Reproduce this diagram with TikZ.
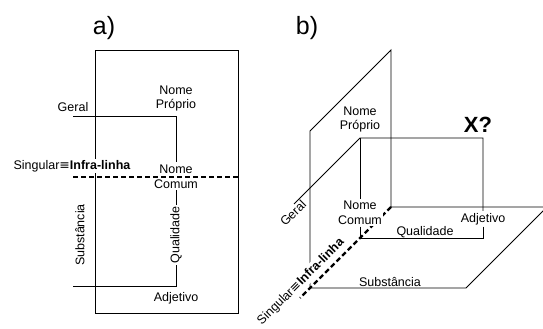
\documentclass[tikz,border=0pt]{standalone}
\usepackage{fontspec}
\setmainfont{Liberation Sans}
\newfontfamily\eqvfont{DejaVu Sans}
\usepackage{tikz}

\newcommand{\eqv}{{\eqvfont ≡}}

\tikzset{
  lbl/.style={font=\fontsize{12.5}{14.5}\selectfont, inner sep=1.5pt},
  wlbl/.style={lbl, fill=white},
  vlbl/.style={wlbl, rotate=90},
  dlbl/.style={wlbl, rotate=45},
  paneltag/.style={font=\fontsize{25}{27}\selectfont},
  infra/.style={line width=2.2pt, dash pattern=on 5pt off 3pt},
}

\begin{document}
\begin{tikzpicture}[x=1pt,y=-1pt,line width=0.9pt]
    \useasboundingbox (0,0) rectangle (543,329);
    % a)
    \node[paneltag] (ta) at (104,28) {a)};
    \draw (95,50) rectangle (238,313);
    \node[lbl] (geralA) at (73,107) {Geral};
    \node[lbl,align=center] (propA) at (176,98.5) {Nome\\Próprio};
    \node[wlbl,anchor=base] (nomeA) at (176,173) {Nome};
    \node[wlbl,anchor=base] (comumA) at (176,188) {Comum};
    \node[wlbl] (infraA) at (72,166) {Singular\eqv\textbf{Infra-linha}};
    \node[vlbl] (qualA) at (176,235) {Qualidade};
    \node[vlbl] (subsA) at (80,235) {Substância};
    \node[lbl,anchor=base] (adjA) at (176,301) {Adjetivo};
    \coordinate (g1) at (73,116);
    \coordinate (s1) at (73,286);
    \coordinate (i1) at (73,177);
    \coordinate (i2) at (238,177);
    \draw (g1) -| (nomeA);
    \draw (comumA) -- (qualA);
    \draw (qualA) |- (s1);
    \draw[infra] (i1) -- (i2);
    % b)
    \node[paneltag] (tb) at (307,28) {b)};
    \coordinate (ftB) at (310,131);
    \coordinate (btB) at (391,50);
    \coordinate (bbB) at (391,207);
    \coordinate (fbB) at (310,288);
    \coordinate (frB) at (466,288);
    \coordinate (brB) at (547,207);
    \coordinate (dsB) at (300,298);
    \draw (fbB) -- (ftB) -- (btB) -- (bbB) -- (brB) -- (frB) -- (fbB);
    \draw[infra] (bbB) -- (dsB);
    \node[dlbl,anchor=south] (infraB) at (306.5,287.5) {Singular\eqv\textbf{Infra-linha}};
    \node[wlbl,align=center] (ncB) at (360,213) {Nome\\Comum};
    \node[lbl,align=center] (npB) at (360,119.5) {Nome\\Próprio};
    \node[lbl,anchor=base] (adjB) at (483,222) {Adjetivo};
    \node[lbl,anchor=base] (qualB) at (425,235) {Qualidade};
    \node[lbl,anchor=base] (subsB) at (390,286) {Substância};
    \node[lbl,rotate=45] (geralB) at (293,213) {Geral};
    \node[paneltag,font=\fontsize{22}{24}\selectfont\bfseries] (xB) at (478,125) {X?};
    \coordinate (c1) at (360,138);
    \coordinate (c2) at (483,138);
    \coordinate (c3) at (360,238);
    \coordinate (geB) at (294,204);
    \draw (geB) -- (c1) -- (c2) -- (adjB);
    \draw (adjB) |- (c3);
    \draw (c1) -- (ncB);
    \draw (ncB) -- (c3);
\end{tikzpicture}
\end{document}
